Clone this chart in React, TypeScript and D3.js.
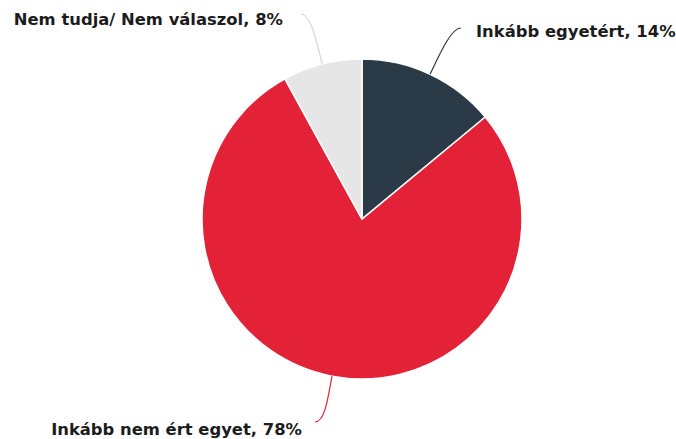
import React from "react";
import * as d3 from "d3";

const categories = ["Inkább egyetért", "Inkább nem ért egyet", "Nem tudja/ Nem válaszol"];
const values = [14, 78, 8];
const colors = ["#2a3b47", "#e32237", "#e6e6e6"];
// where each label sits (anchor point of text) and where its connector ends
const labelAnchors: ("start" | "end")[] = ["start", "end", "end"];
const labelPos = [
  [476, 37],
  [302, 435],
  [283, 25],
];
const connectorEnds = [
  [461, 28],
  [315, 422],
  [301, 14],
];

const W = 676;
const H = 439;
const cx = 362;
const cy = 219;
const r = 160;

export default function App() {
  const pie = d3
    .pie<number>()
    .sort(null)
    .value((d) => d)
    .startAngle(0)
    .endAngle(2 * Math.PI);
  const arcs = pie(values);
  const arc = d3.arc<d3.PieArcDatum<number>>().innerRadius(0).outerRadius(r);

  return (
    <svg width={W} height={H} style={{ position: "absolute", left: 0, top: 0 }}>
      <g transform={`translate(${cx},${cy})`}>
        {arcs.map((a, i) => (
          <path key={i} d={arc(a) || ""} fill={colors[i]} stroke="#fff" strokeWidth={1.5} />
        ))}
      </g>
      {arcs.map((a, i) => {
        const mid = (a.startAngle + a.endAngle) / 2;
        const sx = cx + Math.sin(mid) * r;
        const sy = cy - Math.cos(mid) * r;
        const c1x = sx + Math.sin(mid) * 22;
        const c1y = sy - Math.cos(mid) * 22;
        const [ex, ey] = connectorEnds[i];
        const dir = labelAnchors[i] === "start" ? -1 : 1;
        const c2x = ex + dir * 10;
        const path = d3.path();
        path.moveTo(sx, sy);
        path.bezierCurveTo(c1x, c1y, c2x, ey, ex, ey);
        return (
          <path key={"c" + i} d={path.toString()} fill="none" stroke={i === 2 ? "#d6d6d6" : colors[i]} strokeWidth={1.2} />
        );
      })}
      {arcs.map((a, i) => (
        <text
          key={"t" + i}
          x={labelPos[i][0]}
          y={labelPos[i][1]}
          textAnchor={labelAnchors[i]}
          fontFamily="DejaVu Sans"
          fontWeight="bold"
          fontSize={16.4}
          fill="#1c1c1c"
        >
          {`${categories[i]}, ${values[i]}%`}
        </text>
      ))}
    </svg>
  );
}
